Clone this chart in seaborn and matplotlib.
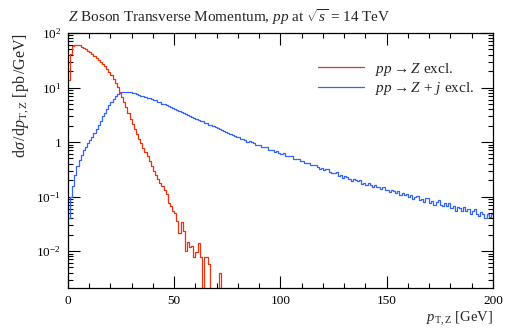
import numpy as np
import pandas as pd
import matplotlib
matplotlib.use("Agg")
import matplotlib.pyplot as plt
import matplotlib.ticker as mticker
import seaborn as sns

# ---- data (1 GeV bins starting at 0) ----
z_excl = [14, 42, 57, 61, 61, 59, 56.5, 53.5, 50.5, 47.5,
          44.5, 41.5, 38.5, 35.5, 32.5, 29.8, 27.0, 24.4, 21.8, 19.3,
          16.9, 14.5, 12.3, 10.2, 8.3, 6.7, 5.4, 4.3, 3.4, 2.7,
          2.15, 1.72, 1.40, 1.15, 0.94, 0.78, 0.65, 0.55, 0.45, 0.37,
          0.30, 0.25, 0.21, 0.18, 0.155, 0.13, 0.11, 0.075, 0.068, 0.054,
          0.050, 0.035, 0.021, 0.034, 0.023, 0.0099, 0.0147, 0.012, 0.0125, 0.0078,
          0.0095, 0.014, 0.0078, 0, 0.0078, 0.0078, 0.0058, 0, 0, 0,
          0, 0.004, 0]

zj_excl = [0.04, 0.10, 0.155, 0.25, 0.37, 0.47, 0.58, 0.70, 0.81, 0.94,
           1.08, 1.26, 1.48, 1.75, 2.08, 2.48, 2.95, 3.48, 4.08, 4.78,
           5.48, 6.18, 6.88, 7.48, 7.95, 8.25, 8.40, 8.45, 8.40, 8.28,
           8.10, 7.90, 7.63, 7.40, 7.12, 6.92, 6.70, 6.52, 6.30, 6.16,
           6.00, 5.78, 5.52, 5.33, 5.08, 4.92, 4.70, 4.54, 4.33, 4.18,
           3.99, 3.86, 3.68, 3.55, 3.39, 3.28, 3.13, 3.04, 2.89, 2.79,
           2.66, 2.58, 2.46, 2.38, 2.27, 2.20, 2.09, 2.03, 1.93, 1.87,
           1.78, 1.73, 1.64, 1.59, 1.51, 1.47, 1.39, 1.36, 1.28, 1.25,
           1.212, 1.137, 1.154, 1.085, 1.019, 1.035, 1.019, 0.941, 0.883, 0.899,
           0.886, 0.813, 0.800, 0.815, 0.728, 0.719, 0.714, 0.653, 0.677, 0.641,
           0.602, 0.618, 0.558, 0.556, 0.548, 0.546, 0.483, 0.481, 0.484, 0.446,
           0.444, 0.405, 0.420, 0.415, 0.374, 0.374, 0.373, 0.343, 0.325, 0.335,
           0.308, 0.319, 0.315, 0.282, 0.265, 0.273, 0.279, 0.243, 0.250, 0.223,
           0.236, 0.233, 0.210, 0.194, 0.211, 0.201, 0.189, 0.201, 0.171, 0.180,
           0.163, 0.176, 0.164, 0.149, 0.165, 0.147, 0.150, 0.135, 0.152, 0.131,
           0.133, 0.120, 0.131, 0.124, 0.114, 0.125, 0.106, 0.114, 0.106, 0.111,
           0.0992, 0.1071, 0.0908, 0.0994, 0.1038, 0.0877, 0.0920, 0.0803, 0.0922, 0.0944,
           0.0775, 0.0814, 0.0709, 0.0809, 0.0858, 0.0714, 0.0662, 0.0767, 0.0674, 0.0747,
           0.0612, 0.0669, 0.0554, 0.0652, 0.0619, 0.0535, 0.0650, 0.0540, 0.0593, 0.0478,
           0.0536, 0.0590, 0.0472, 0.0442, 0.0514, 0.0474, 0.0398, 0.0488, 0.0416, 0.0479]

labels = [r"$pp \to Z$ excl.", r"$pp \to Z\,+\,j$ excl."]
colors = ["#ee3311", "#3366ff"]
x_ticks = [0, 50, 100, 150, 200]
y_ticks = [1e-2, 1e-1, 1, 10, 100]
y_ticklabels = [r"$10^{-2}$", r"$10^{-1}$", "1", r"$10^{1}$", r"$10^{2}$"]

sns.set_theme(style="ticks")
plt.rcParams["font.family"] = ["Liberation Serif", "DejaVu Serif"]
plt.rcParams["mathtext.fontset"] = "custom"
plt.rcParams["mathtext.rm"] = "Liberation Serif"
plt.rcParams["mathtext.it"] = "Liberation Serif:italic"
plt.rcParams["mathtext.bf"] = "Liberation Serif:bold"

fig = plt.figure(figsize=(5.1, 3.3), dpi=100)
ax = fig.add_axes([68/510, 1-288/330, 425/510, 255/330])

for vals, lab, col in zip([z_excl, zj_excl], labels, colors):
    edges = np.arange(len(vals) + 1)
    yv = list(vals) + [vals[-1]]
    df = pd.DataFrame({"x": edges, "y": yv})
    sns.lineplot(data=df, x="x", y="y", ax=ax, color=col, lw=0.9,
                 drawstyle="steps-post", label=lab, estimator=None, sort=False)

ax.set_yscale("log")
ax.set_xlim(0, 200)
ax.set_ylim(2.1e-3, 100)

ax.set_xticks(x_ticks)
ax.xaxis.set_minor_locator(mticker.MultipleLocator(10))
ax.set_yticks(y_ticks)
ax.set_yticklabels(y_ticklabels)
ax.yaxis.set_minor_locator(mticker.LogLocator(base=10, subs=np.arange(2, 10), numticks=20))
ax.yaxis.set_minor_formatter(mticker.NullFormatter())

ax.tick_params(which="both", direction="in", top=True, right=True, colors="black",
               labelsize=9.5, width=0.8)
ax.tick_params(which="major", length=8.5, pad=5)
ax.tick_params(which="minor", length=3.5)
for s in ax.spines.values():
    s.set_linewidth(0.9)
    s.set_color("black")

ax.set_xlabel(r"$p_{\mathrm{T,Z}}$ [GeV]", fontsize=10.5, loc="right", labelpad=2)
ax.set_ylabel(r"d$\sigma\,$/d$p_{\mathrm{T,Z}}$ [pb$\,$/GeV]", fontsize=11.5, loc="top", labelpad=4)
ax.set_title(r"$Z$ Boson Transverse Momentum, $pp$ at $\sqrt{s}$ = 14 TeV",
             fontsize=11, loc="left", pad=8)

ax.legend(loc="upper right", bbox_to_anchor=(0.97, 0.915), frameon=False,
          fontsize=11, handlelength=3.0, handletextpad=0.7, labelspacing=0.15,
          borderaxespad=0)

fig.savefig("out.png", dpi=100)
